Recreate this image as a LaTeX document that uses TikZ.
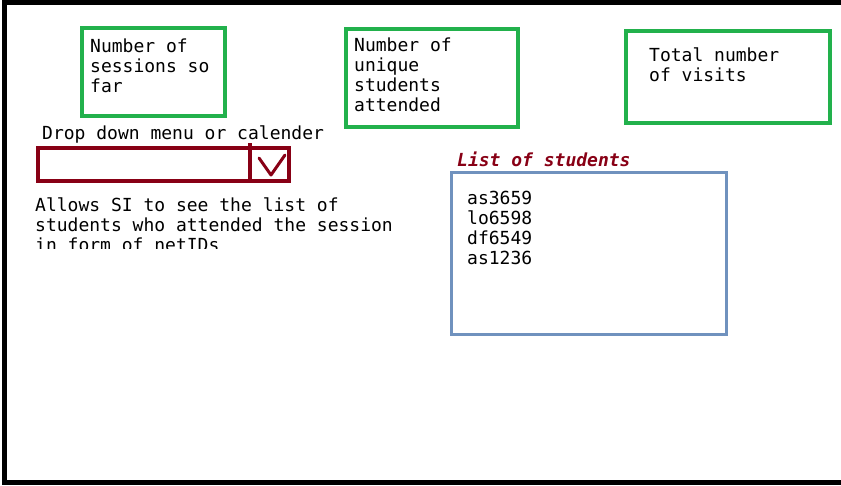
\documentclass[tikz,border=0pt]{standalone}
\usepackage{fontspec}
\newfontfamily\paintfont{DejaVu Sans Mono}
\usetikzlibrary{positioning}
\definecolor{paintgreen}{RGB}{34,177,76}
\definecolor{paintred}{RGB}{136,0,21}
\definecolor{paintblue}{RGB}{112,146,190}
\tikzset{frame line/.style={line width=5pt,line join=miter}}
\tikzset{stat box/.style={draw=paintgreen,line width=4pt},
		 drop box/.style={draw=paintred,line width=4pt},
		 list box/.style={draw=paintblue,line width=3pt}}
\tikzset{paint text/.style={anchor=base west,inner sep=0pt,align=left,
		 font=\paintfont\fontsize{18}{20}\selectfont}}

\begin{document}
\begin{tikzpicture}[x=1pt,y=-1pt]
	\useasboundingbox (0,0) rectangle (841,485);
	\draw[frame line] (841,2.5) -- (4,2.5) -- (4,482.5) -- (841,482.5);
	% the three counters (texts placed by their last line)
	\draw[stat box] (82,28) rectangle (225,116);
	\node[paint text] (sessions) at (90,92) {Number of\\sessions so\\far};
	\draw[stat box] (346,29) rectangle (518,127);
	\node[paint text] (unique) at (354,111) {Number of\\unique\\students\\attended};
	\draw[stat box] (626,31) rectangle (830,123);
	\node[paint text] (visits) at (649,81) {Total number\\of visits};
	% drop down
	\node[paint text] (menu) at (42,139) {Drop down menu or calender};
	\draw[drop box] (38,148) rectangle (289,181);
	\draw[drop box] (250,143) -- (250,181);
	\draw[paintred,line width=3pt,line cap=round,line join=round]
		(259,158) -- (271,175) -- (285,155);
	\begin{scope}
		\clip (0,190) rectangle (420,248);
		\node[paint text] (allows) at (35,251)
			{Allows SI to see the list of\\students who attended the session\\in form of netIDs};
	\end{scope}
	% list of students
	\node[paint text,text=paintred,font=\paintfont\bfseries\itshape\fontsize{18}{20}\selectfont]
		(listtitle) at (457,166) {List of students};
	\draw[list box] (451.5,172.5) rectangle (726.5,334.5);
	\node[paint text] (ids) at (467,264) {as3659\\lo6598\\df6549\\as1236};
\end{tikzpicture}
\end{document}
